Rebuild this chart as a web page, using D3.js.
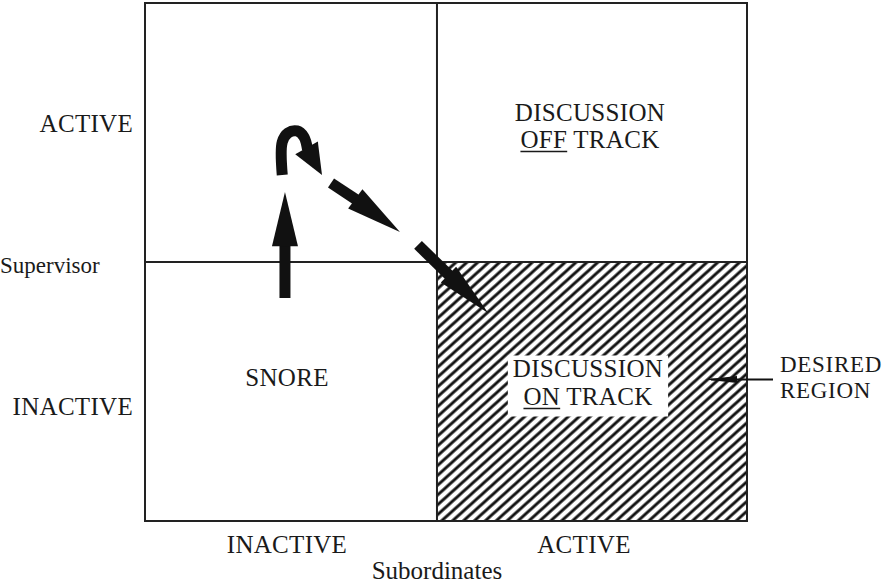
<!DOCTYPE html>
<html lang="en">
  <head>
    <meta charset="UTF-8" />
    <title>Supervisor / Subordinates</title>
    <script src="https://cdn.jsdelivr.net/npm/d3@7"></script>
    <style>
      body { margin: 0; background: #fff; }
    </style>
  </head>
  <body>
    <div id="container"></div>
    <script>
      // levels of activity, low to high
      const subordinateLevels = ['INACTIVE', 'ACTIVE']
      const supervisorLevels = ['INACTIVE', 'ACTIVE']
      // where "active" starts on each axis (axes run 0..2)
      const subordinateSplit = 0.97
      const supervisorSplit = 1.0
      const xTitle = 'Subordinates'
      const yTitle = 'Supervisor'

      // quadrant labels: [subordinate level, supervisor level, lines, underlined word]
      const quadrants = [
        ['INACTIVE', 'INACTIVE', ['SNORE'], null],
        ['ACTIVE', 'ACTIVE', ['DISCUSSION', 'OFF TRACK'], 'OFF'],
        ['ACTIVE', 'INACTIVE', ['DISCUSSION', 'ON TRACK'], 'ON']
      ]
      const desiredQuadrant = ['ACTIVE', 'INACTIVE']
      const desiredLabel = ['DESIRED', 'REGION']

      // arrows in data units: shaft points, then tip
      const arrowShafts = [
        [[0.465, 0.861], [0.465, 1.069]],
        [[0.456, 1.336], [0.456, 1.463], [0.475, 1.498], [0.505, 1.506], [0.528, 1.483], [0.540, 1.434]],
        [[0.618, 1.305], [0.704, 1.239]],
        [[0.907, 1.066], [1.013, 0.946]]
      ]
      const arrowTips = [[0.465, 1.270], [0.588, 1.336], [0.847, 1.116], [1.140, 0.803]]
      const arrowHeadWidths = [26, 26, 24, 22]

      // setup svg
      const width = 891
      const height = 583
      const marginTop = 3
      const marginRight = 144
      const marginBottom = 62
      const marginLeft = 145
      const fontStack = "'Liberation Serif', 'Times New Roman', 'Liberation Sans', serif"

      const x = d3.scaleLinear().domain([0, 2]).range([marginLeft, width - marginRight])
      const y = d3.scaleLinear().domain([0, 2]).range([height - marginBottom, marginTop])
      // extent of each level on the axes
      const xSpan = { INACTIVE: [0, subordinateSplit], ACTIVE: [subordinateSplit, 2] }
      const ySpan = { INACTIVE: [0, supervisorSplit], ACTIVE: [supervisorSplit, 2] }
      const xMid = (k) => (x(xSpan[k][0]) + x(xSpan[k][1])) / 2
      const yMid = (k) => (y(ySpan[k][0]) + y(ySpan[k][1])) / 2

      const svg = d3.create('svg')
        .attr('width', width)
        .attr('height', height)
        .attr('viewBox', [0, 0, width, height])
        .attr('font-family', fontStack)
        .style('font-family', fontStack)
        .attr('fill', '#1a1a1a')

      // hatch pattern for the desired region
      const pat = svg.append('defs').append('pattern')
        .attr('id', 'hatch')
        .attr('patternUnits', 'userSpaceOnUse')
        .attr('width', 12)
        .attr('height', 7.3)
        .attr('patternTransform', 'rotate(-42)')
      pat.append('rect')
        .attr('width', 12).attr('height', 7.3).attr('fill', '#fff')
      pat.append('rect')
        .attr('y', 2.2).attr('width', 12).attr('height', 2.9).attr('fill', '#111')

      const dx = xSpan[desiredQuadrant[0]], dy = ySpan[desiredQuadrant[1]]
      svg.append('rect')
        .attr('x', x(dx[0]))
        .attr('y', y(dy[1]))
        .attr('width', x(dx[1]) - x(dx[0]))
        .attr('height', y(dy[0]) - y(dy[1]))
        .attr('fill', 'url(#hatch)')

      // frame and dividers
      const grid = svg.append('g').attr('stroke', '#222').attr('stroke-width', 2).attr('fill', 'none')
      grid.append('rect')
        .attr('x', x(0)).attr('y', y(2))
        .attr('width', x(2) - x(0)).attr('height', y(0) - y(2))
      grid.append('line')
        .attr('x1', x(subordinateSplit)).attr('x2', x(subordinateSplit))
        .attr('y1', y(0)).attr('y2', y(2))
      grid.append('line')
        .attr('x1', x(0)).attr('x2', x(2))
        .attr('y1', y(supervisorSplit)).attr('y2', y(supervisorSplit))

      const container = document.getElementById('container')
      container.append(svg.node())

      // quadrant labels
      const labelShift = [[-4, -6, 0], [-2, -12, 27], [-4, -15, 28]] // dx, first baseline, line gap
      quadrants.forEach(([sx, sy, lines, under], qi) => {
        const g = svg.append('g')
        const [sdx, sdy, gap] = labelShift[qi]
        const cx = xMid(sx) + sdx
        const cy = yMid(sy) + sdy
        const t = g.append('text')
          .attr('text-anchor', 'middle')
          .attr('font-size', 25)
          .attr('letter-spacing', 0.3)
        lines.forEach((ln, i) => {
          t.append('tspan')
            .attr('x', cx)
            .attr('y', cy + i * gap)
            .text(ln)
        })
        if (sx === desiredQuadrant[0] && sy === desiredQuadrant[1]) {
          const bb = t.node().getBBox()
          g.insert('rect', 'text')
            .attr('x', bb.x - 5)
            .attr('y', bb.y + 1)
            .attr('width', bb.width + 10)
            .attr('height', bb.height + 6)
            .attr('fill', '#fff')
        }
        if (under) {
          const ts = t.selectAll('tspan').nodes()[1]
          const s = ts.getStartPositionOfChar(0)
          const e = ts.getEndPositionOfChar(under.length - 1)
          g.append('line')
            .attr('x1', s.x).attr('x2', e.x)
            .attr('y1', s.y + 4).attr('y2', s.y + 4)
            .attr('stroke', '#1a1a1a').attr('stroke-width', 1.6)
        }
      })

      // arrows
      const line = d3.line().x((p) => x(p[0])).y((p) => y(p[1])).curve(d3.curveCatmullRom)
      const arrows = svg.append('g').attr('fill', '#111').attr('stroke', '#111')
      arrowShafts.forEach((pts, i) => {
        arrows.append('path')
          .attr('d', line(pts))
          .attr('fill', 'none')
          .attr('stroke-width', 11)
        const b = pts[pts.length - 1]
        const bx = x(b[0]), by = y(b[1])
        const tx = x(arrowTips[i][0]), ty = y(arrowTips[i][1])
        const len = Math.hypot(tx - bx, ty - by)
        const ux = (tx - bx) / len, uy = (ty - by) / len
        const hw = arrowHeadWidths[i] / 2
        arrows.append('path')
          .attr('stroke', 'none')
          .attr('d', d3.line()([
            [bx - ux * 2 + uy * hw, by - uy * 2 - ux * hw],
            [tx, ty],
            [bx - ux * 2 - uy * hw, by - uy * 2 + ux * hw]
          ]) + 'Z')
      })

      // axis labels
      const axes = svg.append('g').attr('font-size', 25).attr('letter-spacing', 0.3)
      axes.selectAll('.xl')
        .data(subordinateLevels)
        .join('text')
        .attr('text-anchor', 'middle')
        .attr('x', (d) => xMid(d) + (d === 'ACTIVE' ? -8 : -4))
        .attr('y', y(0) + 32)
        .text((d) => d)
      axes.selectAll('.yl')
        .data(supervisorLevels)
        .join('text')
        .attr('text-anchor', 'end')
        .attr('x', x(0) - 12)
        .attr('y', (d) => yMid(d) + (d === 'ACTIVE' ? -1 : 23))
        .text((d) => d)
      svg.append('text')
        .attr('text-anchor', 'middle')
        .attr('font-size', 25)
        .attr('x', x(subordinateSplit))
        .attr('y', y(0) + 58)
        .text(xTitle)
      svg.append('text')
        .attr('font-size', 23)
        .attr('x', 0)
        .attr('y', y(supervisorSplit) + 11)
        .text(yTitle)

      // desired region callout
      const callY = yMid(desiredQuadrant[1]) - 12
      const call = svg.append('g')
      call.append('line')
        .attr('x1', x(2) + 26).attr('x2', x(2) - 36)
        .attr('y1', callY).attr('y2', callY)
        .attr('stroke', '#111').attr('stroke-width', 2)
      call.append('path')
        .attr('fill', '#111')
        .attr('d', d3.line()([[x(2) - 42, callY], [x(2) - 10, callY - 3.5], [x(2) - 10, callY + 3.5]]) + 'Z')
      call.selectAll('.desired')
        .data(desiredLabel)
        .join('text')
        .attr('font-size', 23)
        .attr('letter-spacing', 0.7)
        .attr('x', x(2) + 33)
        .attr('y', (d, i) => callY - 8 + i * 26.5)
        .text((d) => d)
    </script>
  </body>
</html>
